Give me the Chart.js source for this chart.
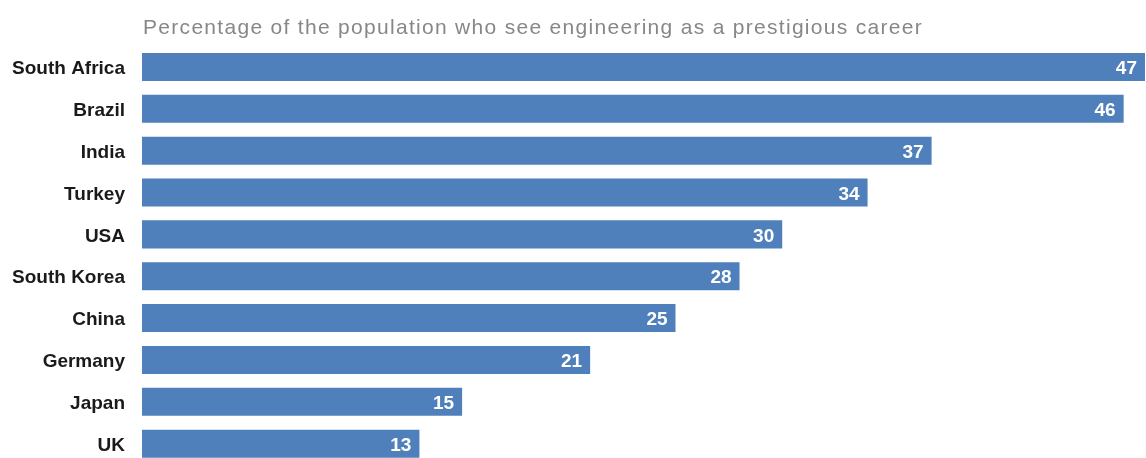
<!DOCTYPE html>
<html>
<head>
<meta charset="utf-8">
<script src="https://cdn.jsdelivr.net/npm/chart.js@4"></script>
<style>
html,body{margin:0;padding:0;background:#fff;overflow:hidden;}
canvas{display:block;}
</style>
</head>
<body>
<canvas id="c" width="1146" height="493"></canvas>
<script>
const categories = ["South Africa","Brazil","India","Turkey","USA","South Korea","China","Germany","Japan","UK"];
const values = [47,46,37,34,30,28,25,21,15,13];
const titleText = "Percentage of the population who see engineering as a prestigious career";

const titlePlugin = {
  id: 'topTitle',
  afterDraw(chart) {
    const ctx = chart.ctx;
    ctx.save();
    ctx.font = '21px "Liberation Sans", Arial, sans-serif';
    if ('letterSpacing' in ctx) ctx.letterSpacing = '1.3px';
    ctx.fillStyle = '#878787';
    ctx.textAlign = 'left';
    ctx.textBaseline = 'middle';
    ctx.fillText(titleText, chart.chartArea.left + 1, 28);
    ctx.restore();
  }
};
const valuePlugin = {
  id: 'values',
  afterDatasetsDraw(chart) {
    const ctx = chart.ctx;
    const meta = chart.getDatasetMeta(0);
    ctx.save();
    ctx.font = 'bold 19px "Liberation Sans", Arial, sans-serif';
    ctx.fillStyle = '#ffffff';
    ctx.textAlign = 'right';
    ctx.textBaseline = 'middle';
    meta.data.forEach((bar, i) => {
      ctx.fillText(String(values[i]), bar.x - 8, bar.y + 2);
    });
    ctx.restore();
  }
};

new Chart(document.getElementById('c'), {
  type: 'bar',
  data: {
    labels: categories,
    datasets: [{
      data: values,
      backgroundColor: '#4f80bb',
      borderWidth: 0,
      barPercentage: 0.67,
      categoryPercentage: 1
    }]
  },
  options: {
    indexAxis: 'y',
    responsive: false,
    maintainAspectRatio: false,
    animation: false,
    layout: { padding: { top: 46, right: 1, bottom: 0, left: 0 } },
    plugins: { legend: { display: false }, tooltip: { enabled: false }, title: { display: false } },
    scales: {
      x: { display: false, min: 0, max: 47 },
      y: {
        grid: { display: false, drawTicks: false },
        border: { display: false },
        ticks: {
          color: '#1a1a1a',
          padding: 17,
          labelOffset: 2,
          font: { family: '"Liberation Sans", Arial, sans-serif', size: 19, weight: 'bold' }
        },
        afterFit(scale) { scale.width = 142; }
      }
    }
  },
  plugins: [titlePlugin, valuePlugin]
});
</script>
</body>
</html>
